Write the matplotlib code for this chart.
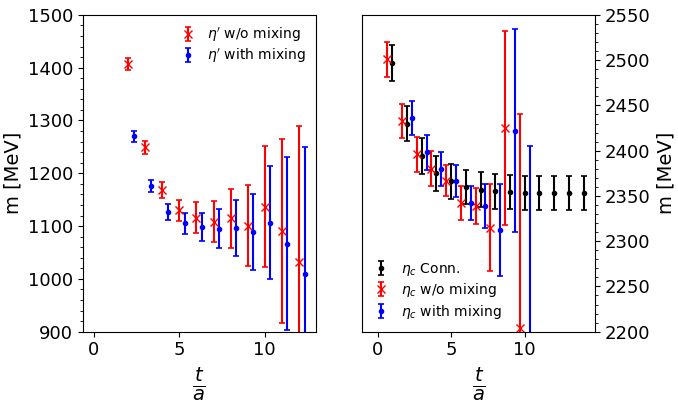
import numpy as np
import matplotlib
matplotlib.use("Agg")
import matplotlib.pyplot as plt
from matplotlib.ticker import MultipleLocator

# ---- left panel: eta' ----
t_left = [2, 3, 4, 5, 6, 7, 8, 9, 10, 11, 12]
etap_womix = [1407, 1249, 1168, 1130, 1116, 1108, 1115, 1101, 1137, 1091, 1032]
etap_womix_err = [12, 12, 15, 20, 29, 39, 56, 77, 115, 174, 258]
etap_mix = [1270, 1176, 1127, 1105, 1098, 1095, 1097, 1089, 1106, 1067, 1010]
etap_mix_err = [11, 12, 15, 20, 27, 37, 53, 72, 107, 164, 240]

# ---- right panel: eta_c ----
t_conn = [1, 2, 3, 4, 5, 6, 7, 8, 9, 10, 11, 12, 13, 14]
etac_conn = [2497, 2430, 2394, 2375, 2366, 2360, 2357, 2355, 2354, 2353, 2353, 2353, 2353, 2353]
etac_conn_err = [20, 19.5, 19.5, 19.5, 19, 19, 19, 19, 19, 19, 19, 19, 19, 19]
t_womix = [1, 2, 3, 4, 5, 6, 7, 8, 9, 10]
etac_womix = [2501, 2433, 2396, 2380, 2367, 2342, 2339, 2315, 2425, 2204]
etac_womix_err = [19.5, 19, 19.5, 19.5, 17.5, 19, 20, 48, 107, 236]
t_mix = [2, 3, 4, 5, 6, 7, 8, 9, 10]
etac_mix = [2436, 2398, 2380, 2367, 2342, 2339, 2312, 2422, 2170]
etac_mix_err = [19, 19, 19, 17.7, 19, 24, 51, 112, 235]

shift = 1.0 / 3.0
FS = 13

fig = plt.figure(figsize=(6.78, 4.03), dpi=100)
ax1 = fig.add_axes([0.122, 0.177, 0.344, 0.786])
ax2 = fig.add_axes([0.534, 0.177, 0.344, 0.786])

ekw = dict(capsize=2.5, elinewidth=1.5, capthick=1.2, linestyle='none')

ax1.errorbar(t_left, etap_womix, yerr=etap_womix_err, fmt='x', color='red',
             markersize=6, label=r"$\eta'$ w/o mixing", **ekw)
ax1.errorbar(np.array(t_left) + shift, etap_mix, yerr=etap_mix_err, fmt='.', color='blue',
             markersize=6, label=r"$\eta'$ with mixing", **ekw)
ax1.set_xlim(-0.66, 13.0)
ax1.set_ylim(900, 1500)
ax1.yaxis.set_major_locator(MultipleLocator(100))
ax1.yaxis.set_minor_locator(MultipleLocator(20))
ax1.set_xticks([0, 5, 10])
ax1.set_ylabel("m [MeV]", fontsize=FS + 1)
ax1.set_xlabel(r"$\frac{t}{a}$", fontsize=FS + 7)
ax1.tick_params(labelsize=FS)
ax1.legend(loc='upper right', frameon=False, fontsize=FS - 3, handlelength=1.2,
           labelspacing=0.25, borderaxespad=0.35)

ax2.errorbar(t_conn, etac_conn, yerr=etac_conn_err, fmt='.', color='black',
             markersize=6, label=r"$\eta_c$ Conn.", **ekw)
ax2.errorbar(np.array(t_womix) - shift, etac_womix, yerr=etac_womix_err, fmt='x', color='red',
             markersize=6, label=r"$\eta_c$ w/o mixing", **ekw)
ax2.errorbar(np.array(t_mix) + shift, etac_mix, yerr=etac_mix_err, fmt='.', color='blue',
             markersize=6, label=r"$\eta_c$ with mixing", **ekw)
ax2.set_xlim(-1.05, 14.8)
ax2.set_ylim(2200, 2550)
ax2.yaxis.set_major_locator(MultipleLocator(50))
ax2.yaxis.set_minor_locator(MultipleLocator(10))
ax2.set_xticks([0, 5, 10])
ax2.yaxis.tick_right()
ax2.yaxis.set_label_position('right')
ax2.set_ylabel("m [MeV]", fontsize=FS + 1)
ax2.set_xlabel(r"$\frac{t}{a}$", fontsize=FS + 7)
ax2.tick_params(labelsize=FS)
ax2.legend(loc='lower left', frameon=False, fontsize=FS - 3, handlelength=1.2,
           labelspacing=0.25, borderaxespad=0.4)

fig.savefig("out.png", dpi=100)
